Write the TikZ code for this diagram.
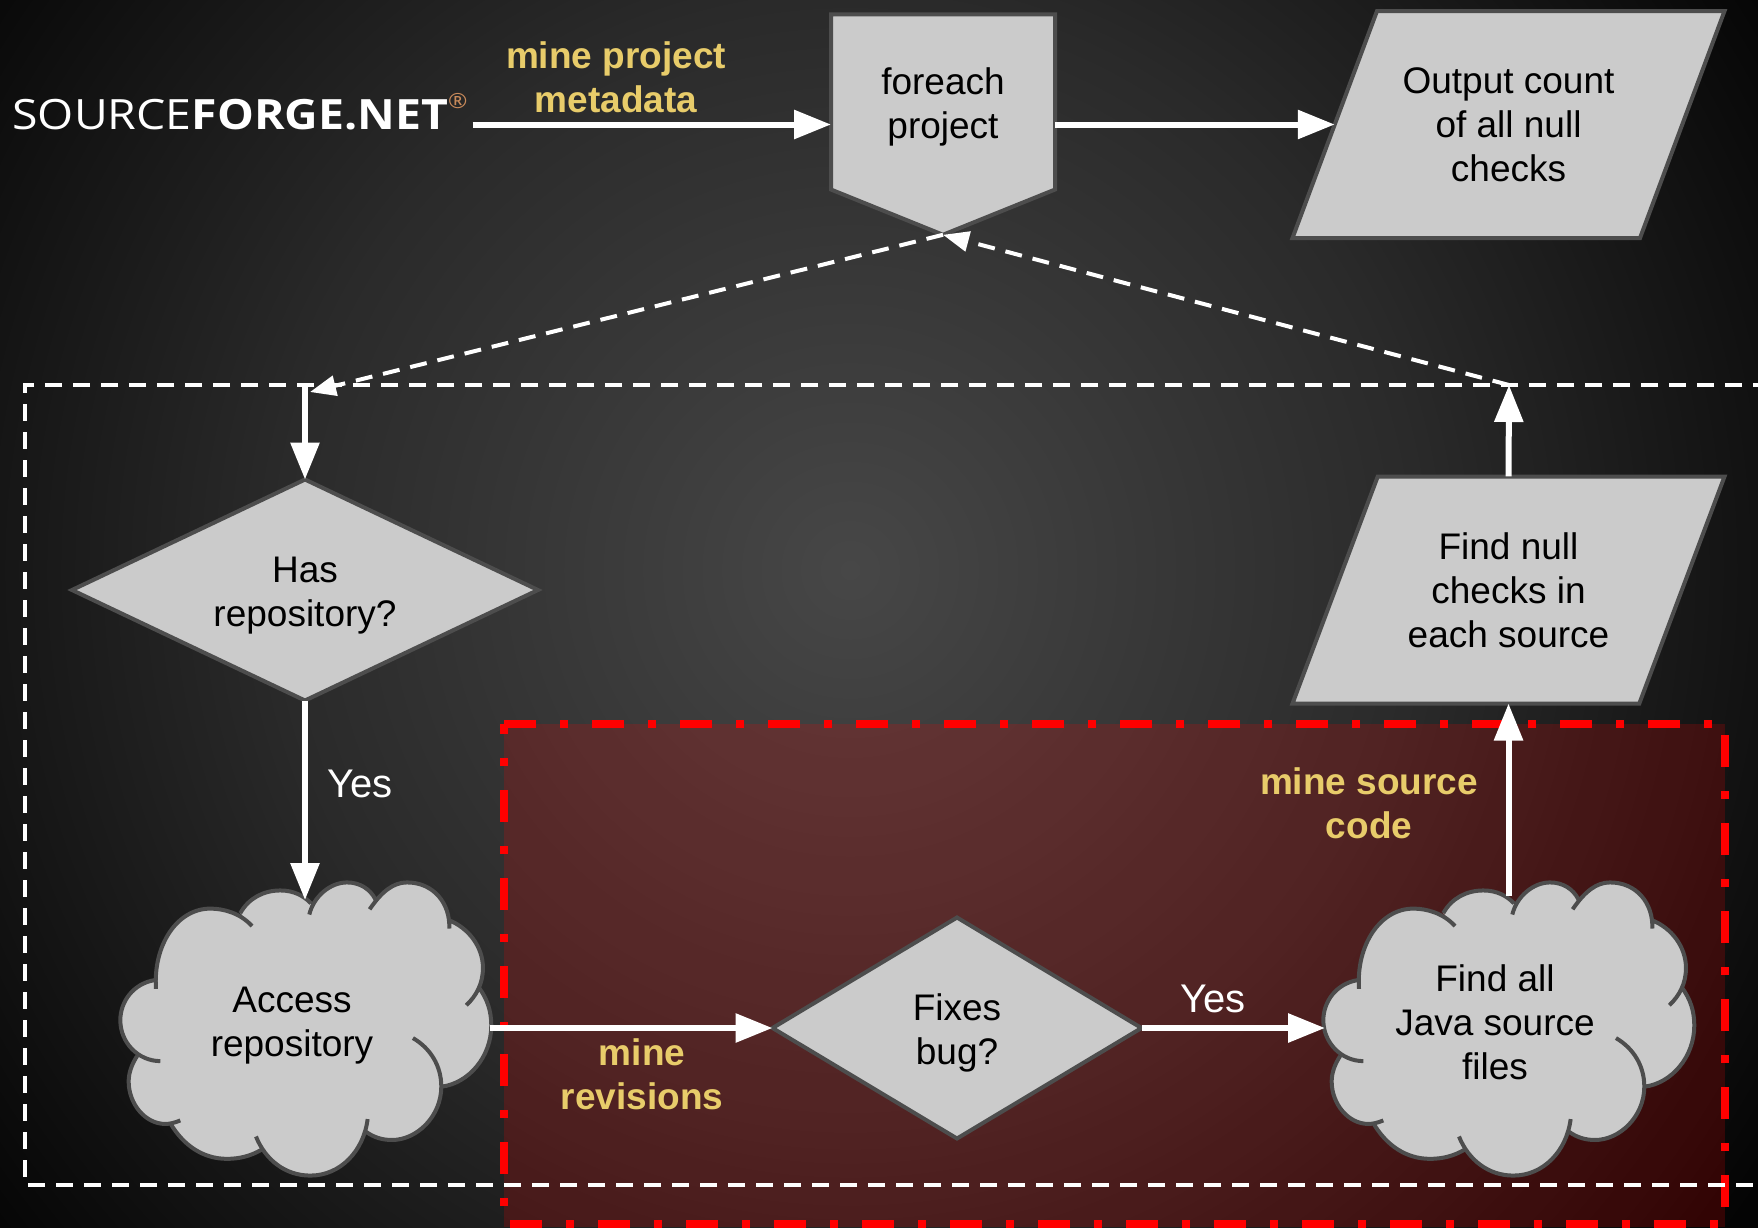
\documentclass[tikz,border=0pt]{standalone}
\usepackage{fontspec}
\usepackage{graphicx}
\usepackage{xcolor}
\setmainfont{Liberation Sans}
\newfontfamily\logofont{Open Sans}
\usetikzlibrary{shapes.geometric, shapes.symbols, arrows.meta, positioning, calc}
\definecolor{BoxGray}{HTML}{CBCBCB}
\definecolor{EdgeGray}{HTML}{4D4D4D}
\definecolor{MineGold}{HTML}{E8CC6A}
\definecolor{GlowGray}{HTML}{474747}
\definecolor{MidGray}{HTML}{2A2A2A}
\definecolor{LowGray}{HTML}{141414}
\definecolor{DarkEdge}{HTML}{040404}
\definecolor{LogoOrange}{HTML}{C98A5A}
\pgfdeclareradialshading{bgglow}{\pgfpoint{0bp}{0bp}}{color(0bp)=(GlowGray); color(13bp)=(MidGray); color(20bp)=(LowGray); color(25bp)=(DarkEdge); color(50bp)=(DarkEdge)}
\tikzset{
    boxtext/.style={font=\fontsize{37}{44}\selectfont, text=black, align=center, inner sep=0pt, outer sep=0pt},
    flowbox/.style={boxtext, draw=EdgeGray, fill=BoxGray, line width=4pt},
    ioshape/.style={flowbox, shape=trapezium, trapezium left angle=53.5, trapezium right angle=126.5,
          trapezium stretches body=true, minimum width=432pt, minimum height=227pt},
    decision/.style={flowbox, shape=diamond},
    cloudtext/.style={boxtext, minimum height=252pt},
    minelabel/.style={font=\fontsize{37}{44}\selectfont\bfseries, text=MineGold, align=center, inner sep=0pt},
    yeslabel/.style={font=\fontsize{40}{44}\selectfont, text=white, inner sep=0pt},
    flowarrow/.style={-{Triangle[length=37pt,width=28pt]}, line width=6pt, white},
    looparrow/.style={-{Triangle[length=26pt,width=20pt]}, line width=4pt, white, dash pattern=on 17pt off 11pt},
}
\newcommand{\toppad}{\rule{0pt}{36pt}}
\newcommand{\cloudlobes}[1]{
    (237,885) .. controls (228,760) and (300,655) .. (400,655) .. controls (440,655) and (490,668) .. (525,705) #1
    (490,668) .. controls (515,625) and (560,603) .. (610,603) .. controls (650,603) and (680,618) .. (702,640) #1
    (697,672) .. controls (710,620) and (760,580) .. (810,580) .. controls (850,580) and (880,600) .. (895,628) #1
    (878,657) .. controls (915,605) and (950,580) .. (990,580) .. controls (1070,580) and (1120,640) .. (1117,712) #1
    (1115,688) .. controls (1175,710) and (1218,765) .. (1218,825) .. controls (1218,870) and (1198,905) .. (1168,932) #1
    (1205,880) .. controls (1232,915) and (1243,950) .. (1243,990) .. controls (1243,1080) and (1175,1155) .. (1095,1165) #1
    (1008,1026) .. controls (1060,1055) and (1093,1105) .. (1093,1165) .. controls (1093,1250) and (1020,1318) .. (945,1318) .. controls (915,1318) and (890,1310) .. (868,1295) #1
    (872,1258) .. controls (860,1350) and (790,1420) .. (700,1420) .. controls (625,1420) and (565,1375) .. (537,1308) #1
    (555,1345) .. controls (520,1365) and (485,1372) .. (450,1372) .. controls (380,1372) and (320,1335) .. (280,1270) #1
    (310,1262) .. controls (290,1270) and (275,1272) .. (265,1272) .. controls (205,1272) and (155,1215) .. (155,1150) .. controls (155,1125) and (165,1100) .. (180,1078) #1
    (250,1092) .. controls (185,1092) and (130,1040) .. (130,975) .. controls (130,920) and (170,870) .. (232,860)
}
\newcommand{\drawcloud}[2]{
    \begin{scope}[shift={(#1,#2)}, xscale=0.3333, yscale=0.349]
        \fill[BoxGray] \cloudlobes{--} -- cycle;
        \draw[EdgeGray, line width=4pt] \cloudlobes{};
    \end{scope}
}

\begin{document}
\begin{tikzpicture}[x=1pt, y=-1pt]
    \useasboundingbox (0,0) rectangle (1758,1227);
    \clip (0,0) rectangle (1758,1227);
    \shade[shading=bgglow] (-250,-530) rectangle (1950,1670);

    % Regions
    \fill[red, opacity=0.18] (504,724) rectangle (1725,1227);
    \draw[red, line width=8pt, dash pattern=on 32pt off 24pt on 8pt off 24pt]
        (504,724) -- (1725,724) -- (1725,1224) -- (504,1224) -- cycle;
    \draw[white, line width=4pt, dash pattern=on 17pt off 11pt]
        (1770,385) -- (25,385) -- (25,1185) -- (1770,1185);
    \coordinate (loopin) at (305,385);
    \coordinate (loopout) at (1509,385);

    % Top row
    \node[font=\logofont\fontsize{43}{44}\selectfont, text=white, inner sep=0pt] (sf) at (240,112)
        {\resizebox{455pt}{36pt}{SOURCE\textbf{FORGE.NET}\raisebox{0.5em}{\textcolor{LogoOrange}{\scalebox{0.5}{®}}}}};
    \node[flowbox, shape=signal, signal to=south, signal pointer angle=136,
          minimum width=224pt, minimum height=200pt] (project) at (943,102) {\toppad foreach\\project};
    \node[ioshape] (output) at (1508.5,124.5) {Output count\\of all null\\checks};

    % Middle and bottom
    \node[decision, aspect=2.09, minimum width=466pt, minimum height=221pt] (hasrepo) at (305,590) {\toppad Has\\repository?};
    \node[ioshape] (nullchecks) at (1508.5,590) {Find null\\checks in\\each source};
    \drawcloud{77}{680}
    \node[cloudtext, minimum width=396pt] (access) at (292,1026) {Access\\repository};
    \node[decision, aspect=1.63, minimum width=369pt, minimum height=221pt] (fixes) at (957,1028) {\toppad Fixes\\bug?};
    \drawcloud{1280}{680}
    \node[cloudtext, minimum width=340pt] (javafiles) at (1495,1022) {Find all\\Java source\\files};

    % Arrows
    \draw[flowarrow] ([xshift=5pt]sf.east |- output.center) -- (project.west |- output.center);
    \draw[flowarrow] (project.east |- output.center) -- (output.west);
    \draw[looparrow] (project.south) -- ([xshift=5pt,yshift=-7pt]loopin);
    \draw[looparrow] (loopout) -- (project.south);
    \draw[flowarrow] (loopin) -- (hasrepo.north);
    \draw[flowarrow] (hasrepo.south) -- (hasrepo.south |- access.north);
    \draw[flowarrow] (access.east |- fixes.west) -- (fixes.west);
    \draw[flowarrow] (fixes.east) -- (fixes.east -| javafiles.west);
    \draw[flowarrow] (nullchecks.south |- javafiles.north) -- (nullchecks.south);
    \draw[flowarrow] (nullchecks.north) -- (loopout);

    % Labels
    \node[minelabel] (metalabel) at (616,77) {mine project\\metadata};
    \node[minelabel] (revlabel) at (642,1074) {mine\\revisions};
    \node[minelabel] (srclabel) at (1369,803) {mine source\\code};
    \node[yeslabel] (yesrepo) at (360,784) {Yes};
    \node[yeslabel] (yesbug) at (1213,999) {Yes};
\end{tikzpicture}
\end{document}
